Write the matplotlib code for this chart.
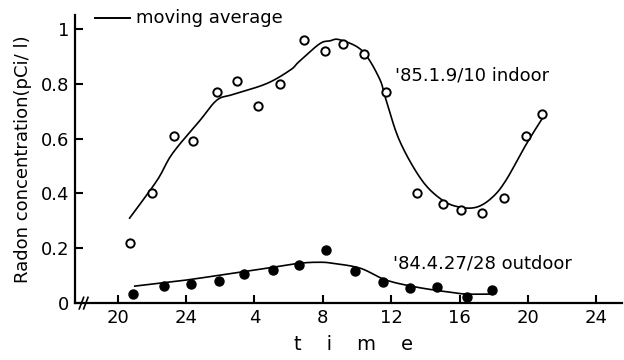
import numpy as np
import matplotlib.pyplot as plt

# time in continuous hours (28 = 4h next day, 32 = 8h, ...)
indoor_t = [20.7, 22.0, 23.3, 24.4, 25.8, 27.0, 28.2, 29.5, 30.9, 32.1,
            33.2, 34.4, 35.7, 37.5, 39.0, 40.1, 41.3, 42.6, 43.9, 44.8]
indoor_v = [0.22, 0.40, 0.61, 0.59, 0.77, 0.81, 0.72, 0.80, 0.96, 0.92,
            0.945, 0.91, 0.77, 0.40, 0.36, 0.34, 0.33, 0.385, 0.61, 0.69]

indoor_ma_t = [20.7, 22.3, 23.2, 24.8, 25.8, 26.7, 28.7, 30.1, 30.6, 31.8,
               32.4, 33.0, 34.3, 35.3, 35.7, 36.5, 37.8, 39.0, 40.0, 41.0,
               41.9, 42.7, 43.9, 44.9]
indoor_ma_v = [0.31, 0.447, 0.545, 0.665, 0.74, 0.76, 0.80, 0.85, 0.88, 0.945,
               0.956, 0.96, 0.92, 0.82, 0.74, 0.59, 0.447, 0.375, 0.35, 0.35,
               0.385, 0.447, 0.58, 0.68]

outdoor_t = [20.9, 22.7, 24.3, 25.9, 27.4, 29.1, 30.6, 32.2, 33.9, 35.5,
             37.1, 38.7, 40.4, 41.9]
outdoor_v = [0.033, 0.062, 0.07, 0.08, 0.105, 0.12, 0.138, 0.193, 0.116, 0.076,
             0.055, 0.058, 0.022, 0.047]

outdoor_ma_t = [21.0, 24.0, 26.7, 28.7, 30.6, 31.8, 32.6, 34.2, 35.7, 37.5,
                39.4, 40.4, 41.9]
outdoor_ma_v = [0.062, 0.084, 0.109, 0.127, 0.145, 0.149, 0.145, 0.127, 0.084,
                0.058, 0.04, 0.033, 0.033]

xticks = [20, 24, 28, 32, 36, 40, 44, 48]
xtick_labels = ["20", "24", "4", "8", "12", "16", "20", "24"]
yticks = [0, 0.2, 0.4, 0.6, 0.8, 1.0]
ytick_labels = ["0", "0.2", "0.4", "0.6", "0.8", "1"]


def smooth(xs, ys, n=12):
    # Catmull-Rom pass so the read curve points draw as a smooth line
    p = np.column_stack([xs, ys])
    p = np.vstack([p[0], p, p[-1]])
    out = []
    for i in range(1, len(p) - 2):
        p0, p1, p2, p3 = p[i - 1], p[i], p[i + 1], p[i + 2]
        for t in np.linspace(0, 1, n, endpoint=False):
            out.append(0.5 * (2 * p1 + (-p0 + p2) * t
                              + (2 * p0 - 5 * p1 + 4 * p2 - p3) * t ** 2
                              + (-p0 + 3 * p1 - 3 * p2 + p3) * t ** 3))
    out.append(p[-2])
    out = np.array(out)
    return out[:, 0], out[:, 1]


plt.rcParams['font.family'] = 'DejaVu Sans'
fig = plt.figure(figsize=(6.24, 3.6), dpi=100)
ax = fig.add_axes([0.120, 0.158, 0.877, 0.80])

ax.plot(*smooth(indoor_ma_t, indoor_ma_v), color='black', lw=1.2)
ax.plot(*smooth(outdoor_ma_t, outdoor_ma_v), color='black', lw=1.2)
ax.plot(indoor_t, indoor_v, 'o', mfc='white', mec='black', mew=1.4, ms=6)
ax.plot(outdoor_t, outdoor_v, 'o', color='black', ms=6.5)

ax.set_xlim(17.5, 49.5)
ax.set_ylim(0, 1.05)
ax.set_xticks(xticks)
ax.set_xticklabels(xtick_labels)
ax.set_yticks(yticks)
ax.set_yticklabels(ytick_labels)
ax.tick_params(direction='in', length=6, width=1.5, labelsize=13, pad=4)

for s in ['top', 'right']:
    ax.spines[s].set_visible(False)
for s in ['left', 'bottom']:
    ax.spines[s].set_linewidth(1.6)

# axis break mark
for dx in (0.012, 0.02):
    ax.plot([dx - 0.004, dx + 0.004], [-0.02, 0.02], color='black', lw=1.2,
            transform=ax.transAxes, clip_on=False)

ax.set_ylabel("Radon concentration(pCi/ l)", fontsize=13, labelpad=6)
ax.text(0.51, -0.145, "t    i    m    e", transform=ax.transAxes,
        ha='center', va='center', fontsize=14)

# legend drawn by hand
ax.plot([18.65, 20.7], [1.04, 1.04], color='black', lw=1.4, clip_on=False)
ax.text(21.1, 1.04, "moving average", va='center', fontsize=13)

ax.text(36.2, 0.83, "'85.1.9/10 indoor", va='center', fontsize=13)
ax.text(36.1, 0.145, "'84.4.27/28 outdoor", va='center', fontsize=13)

fig.savefig("out.png", dpi=100)
